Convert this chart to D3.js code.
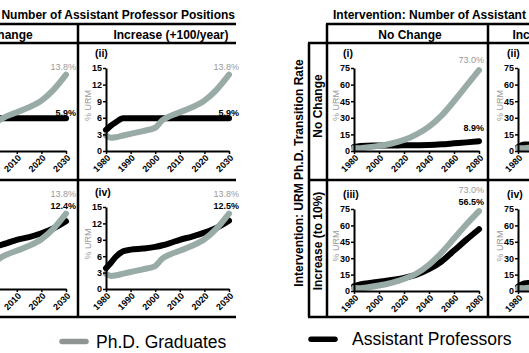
<!DOCTYPE html>
<html><head><meta charset="utf-8">
<script src="https://cdn.jsdelivr.net/npm/d3@7"></script>
<style>body{margin:0;background:#fff}svg{display:block;font-family:"Liberation Sans",Arial,Helvetica,sans-serif}</style>
</head><body><svg id="c" width="529" height="353"></svg>
<script>
// ---------- data ----------
// Left figure: 1980-2030
const yearsA    = [1980,1982,1984,1987,1990,1995,2000,2003,2006,2010,2015,2020,2025,2030];
const phdA      = [2.8,2.4,2.5,2.8,3.1,3.6,4.2,5.6,6.3,7.0,7.9,9.1,11.1,13.8];
const asstA_i   = [3.8,4.3,4.9,5.5,5.7,5.8,5.9,5.9,5.9,5.9,5.9,5.9,5.9,5.9];
const asstA_ii  = [3.8,4.6,5.2,5.9,5.9,5.9,5.9,5.9,5.9,5.9,5.9,5.9,5.9,5.9];
const asstA_iii = [3.8,4.3,4.9,5.6,6.1,6.9,7.6,8.0,8.4,9.0,9.5,10.2,11.1,12.4];
const asstA_iv  = [3.8,4.8,5.9,6.9,7.2,7.4,7.7,8.0,8.4,9.0,9.6,10.3,11.2,12.5];
// Right figure: 1980-2080
const yearsB    = [1980,1985,1990,2000,2010,2020,2030,2040,2050,2060,2070,2080];
const phdB_i    = [2.7,2.5,3.1,4.6,6.8,10,15,22,32,45,59,73];
const asstB_i   = [3.6,4.6,4.8,4.9,5.0,5.1,5.2,5.4,6.0,6.9,7.8,8.9];
const phdB_ii   = [2.7,2.5,3.1,4.6,6.8,10,15,22,32,45,59,73];
const asstB_ii  = [3.6,5.9,5.9,5.9,6.0,6.1,6.3,6.6,7.1,7.7,8.3,8.9];
const phdB_iii  = [2.7,2.6,3.2,5.0,7.5,11,16,24,35,48,61,73];
const asstB_iii = [4.5,6.0,7.0,8.5,10,12,15,20,27,37,47,56.5];
const phdB_iv   = [2.7,2.6,3.2,5.0,7.5,11,16,24,35,48,61,73];
const asstB_iv  = [4.0,7.0,7.5,9.0,10.5,12.5,15.5,20.5,27.5,37.5,47.5,57];
// tick labels
const xTicksA = [1980,1990,2000,2010,2020,2030];
const yTicksA = [0,3,6,9,12,15];
const xTicksB = [1980,2000,2020,2040,2060,2080];
const yTicksB = [0,15,30,45,60,75];
const endLabelsA = {i:["13.8%","5.9%"], ii:["13.8%","5.9%"], iii:["13.8%","12.4%"], iv:["13.8%","12.5%"]};
const endLabelsB = {i:["73.0%","8.9%"], ii:["73.0%","8.9%"], iii:["73.0%","56.5%"], iv:["73.0%","57.0%"]};

// ---------- drawing ----------
const svg = d3.select("#c");
const GRAY = "#99aba7", GRAYTXT = "#9a9a9a";

function panel(c) {
  const x = d3.scaleLinear().domain(c.xd).range([c.x0, c.x1]);
  const y = d3.scaleLinear().domain(c.yd).range([c.yb, c.yt]);
  const g = svg.append("g");
  const line = d3.line().x(d => x(d[0])).y(d => y(d[1])).curve(d3.curveMonotoneX);
  g.append("path").datum(c.years.map((t,i)=>[t,c.asst[i]])).attr("d", line)
    .attr("fill","none").attr("stroke","#000").attr("stroke-width",6).attr("stroke-linecap","round").attr("stroke-linejoin","round");
  g.append("path").datum(c.years.map((t,i)=>[t,c.phd[i]])).attr("d", line)
    .attr("fill","none").attr("stroke",GRAY).attr("stroke-width",6).attr("stroke-linecap","round").attr("stroke-linejoin","round");
  const gy = g.append("g").attr("transform",`translate(${c.x0},0)`)
    .call(d3.axisLeft(y).tickValues(c.yt_).tickSize(3).tickSizeOuter(0).tickPadding(1));
  const gx = g.append("g").attr("transform",`translate(0,${c.yb})`)
    .call(d3.axisBottom(x).tickValues(c.xt_).tickFormat(d3.format("d")).tickSize(3).tickSizeOuter(0));
  [gy,gx].forEach(a => {
    a.select(".domain").attr("stroke","#000").attr("stroke-width",2);
    a.selectAll(".tick line").attr("stroke","#000").attr("stroke-width",1.5);
    a.selectAll("text").attr("fill","#000").style("font-size","9px").style("font-weight","bold").style("font-family","inherit");
  });
  gx.selectAll("text").attr("x",null).attr("y",null).attr("dy",null)
    .attr("text-anchor","end").attr("transform","translate(4.5,7.5) rotate(-45)");
  g.append("text").attr("x",c.x0-11).attr("y",c.yt-11).text(c.label)
    .style("font-size","10.5px").style("font-weight","bold");
  g.append("text").attr("transform",`translate(${c.x0-15},${(c.yt+c.yb)/2-4}) rotate(-90)`)
    .attr("text-anchor","middle").attr("fill",GRAYTXT).style("font-size","9px").text("% URM");
  g.append("text").attr("x",c.x1+c.lx).attr("y",c.ly[0]).attr("text-anchor","end")
    .attr("fill",GRAYTXT).style("font-size","9px").text(c.ends[0]);
  g.append("text").attr("x",c.x1+c.lx).attr("y",c.ly[1]).attr("text-anchor","end")
    .attr("fill","#000").style("font-size","9px").style("font-weight","bold").text(c.ends[1]);
}

// left figure panels
const rowA = [{yt:68,yb:151},{yt:207,yb:289}];
const colA = [{x0:-57,x1:66},{x0:106,x1:229}];
const lyA = [[70,116],[197,209]];
[["i",asstA_i,0,0],["ii",asstA_ii,0,1],["iii",asstA_iii,1,0],["iv",asstA_iv,1,1]].forEach(([k,a,r,cI]) => {
  panel({xd:[1980,2030], yd:[0,15], ...colA[cI], ...rowA[r], years:yearsA, phd:phdA, asst:a,
    xt_:xTicksA, yt_:yTicksA, label:`(${k})`, ends:endLabelsA[k], lx:10, ly: lyA[r]});
});
// right figure panels
const rowB = [{yt:68,yb:151},{yt:209,yb:291}];
const colB = [{x0:354,x1:479},{x0:518,x1:643}];
const lyB = [[63,131],[193,205]];
[["i",phdB_i,asstB_i,0,0],["ii",phdB_ii,asstB_ii,0,1],["iii",phdB_iii,asstB_iii,1,0],["iv",phdB_iv,asstB_iv,1,1]].forEach(([k,p,a,r,cI]) => {
  panel({xd:[1980,2080], yd:[0,75], ...colB[cI], ...rowB[r], years:yearsB, phd:p, asst:a,
    xt_:xTicksB, yt_:yTicksB, label:`(${k})`, ends:endLabelsB[k], lx:5, ly: lyB[r]});
});

// ---------- frames ----------
function hl(x1,x2,y){svg.append("line").attr("x1",x1).attr("x2",x2).attr("y1",y).attr("y2",y).attr("stroke","#000").attr("stroke-width",2.5);}
function vl(x,y1,y2){svg.append("line").attr("x1",x).attr("x2",x).attr("y1",y1).attr("y2",y2).attr("stroke","#000").attr("stroke-width",2.5);}
hl(-100,236,24); hl(-100,236,43); hl(-100,236,180); hl(-100,236,317); vl(78,24,317);
hl(326,540,24); hl(308,540,43); hl(308,540,180); hl(308,540,317);
vl(327,24,317); vl(309,43,317); vl(488,24,317);

function txt(x,y,s,size,opts={}){
  const t = svg.append("text").attr("x",x).attr("y",y).text(s).style("font-size",size+"px")
    .style("font-weight",opts.bold===false?"normal":"bold").attr("text-anchor",opts.anchor||"start");
  if (opts.fill) t.attr("fill",opts.fill);
  return t;
}
txt(235,18.5,"Intervention: Number of Assistant Professor Positions",12,{anchor:"end"});
txt(333,18.5,"Intervention: Number of Assistant Professor Positions",12);
txt(1,38.5,"No Change",12,{anchor:"middle"});
txt(171,38.5,"Increase (+100/year)",12,{anchor:"middle"});
txt(410,38.5,"No Change",12,{anchor:"middle"});
txt(570,38.5,"Increase (+100/year)",12,{anchor:"middle"});
svg.append("text").attr("transform","translate(303,173) rotate(-90)").attr("text-anchor","middle")
  .style("font-size","12px").style("font-weight","bold").text("Intervention: URM Ph.D. Transition Rate");
svg.append("text").attr("transform","translate(322,106) rotate(-90)").attr("text-anchor","middle")
  .style("font-size","12px").style("font-weight","bold").text("No Change");
svg.append("text").attr("transform","translate(322,241) rotate(-90)").attr("text-anchor","middle")
  .style("font-size","12px").style("font-weight","bold").text("Increase (to 10%)");

svg.append("line").attr("x1",62).attr("x2",86).attr("y1",341.5).attr("y2",341.5)
  .attr("stroke","#8f9593").attr("stroke-width",5.5).attr("stroke-linecap","round");
txt(96,347.5,"Ph.D. Graduates",17.5,{bold:false});
svg.append("line").attr("x1",311).attr("x2",335).attr("y1",339.3).attr("y2",339.3)
  .attr("stroke","#000").attr("stroke-width",5.5).attr("stroke-linecap","round");
txt(352,345,"Assistant Professors",17.5,{bold:false});

// drop texts that lie wholly outside the visible page (they are cropped away in the reference)
svg.selectAll("text").each(function(){
  const r = this.getBoundingClientRect();
  if (r.right <= 0 || r.left >= 529 || r.bottom <= 0 || r.top >= 353) d3.select(this).remove();
});
</script></body></html>
